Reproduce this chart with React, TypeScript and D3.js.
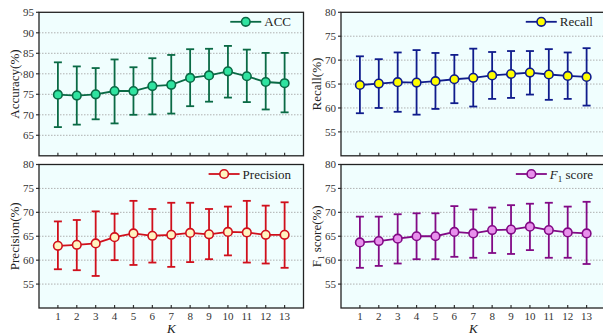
import React, { useEffect, useRef } from "react";
import * as d3 from "d3";

const kValues = [1, 2, 3, 4, 5, 6, 7, 8, 9, 10, 11, 12, 13];

const accMean = [74.9, 74.7, 75.0, 75.8, 75.8, 77.0, 77.3, 79.0, 79.6, 80.6, 79.4, 78.0, 77.7];
const accLow = [67.0, 67.6, 68.9, 67.9, 70.0, 70.1, 70.3, 72.1, 73.2, 74.2, 73.1, 71.3, 70.6];
const accHigh = [82.8, 81.8, 81.4, 83.5, 81.6, 83.8, 84.6, 86.0, 86.1, 86.8, 85.9, 85.1, 85.1];

const recMean = [64.8, 65.1, 65.4, 65.3, 65.6, 66.0, 66.3, 66.8, 67.1, 67.4, 67.0, 66.7, 66.5];
const recLow = [58.9, 60.0, 59.2, 58.6, 59.8, 61.0, 60.3, 61.9, 62.1, 62.8, 61.7, 61.9, 60.5];
const recHigh = [70.8, 70.2, 71.6, 72.1, 71.5, 71.1, 72.4, 71.7, 71.9, 71.9, 72.3, 71.6, 72.5];

const preMean = [63.0, 63.2, 63.5, 64.8, 65.6, 65.1, 65.3, 65.7, 65.4, 65.9, 65.8, 65.3, 65.3];
const preLow = [58.1, 57.9, 56.7, 60.0, 59.0, 59.5, 58.6, 59.6, 60.2, 61.0, 59.5, 59.3, 58.4];
const preHigh = [68.1, 68.4, 70.2, 69.7, 72.4, 70.7, 72.0, 72.0, 70.7, 71.2, 72.4, 71.4, 72.1];

const f1Mean = [63.7, 64.0, 64.5, 65.0, 65.0, 65.9, 65.6, 66.3, 66.4, 67.0, 66.3, 65.8, 65.6];
const f1Low = [58.4, 58.8, 59.3, 60.2, 60.2, 60.7, 60.5, 61.5, 61.3, 62.1, 60.5, 60.5, 59.2];
const f1High = [69.1, 69.1, 69.6, 69.8, 69.8, 71.3, 70.6, 71.0, 71.5, 71.8, 72.0, 71.2, 72.2];

const accTicks = [65, 70, 75, 80, 85, 90, 95];
const otherTicks = [55, 60, 65, 70, 75, 80];

type Panel = {
  mean: number[];
  low: number[];
  high: number[];
  domain: [number, number];
  ticks: number[];
  label: string;
  legend: string;
  f1?: boolean;
  line: string;
  fill: string;
  left: number;
  top: number;
  xLabels: boolean;
};

const W = 264.5;
const H = 143.5;

const panels: Panel[] = [
  { mean: accMean, low: accLow, high: accHigh, domain: [60, 95], ticks: accTicks, label: "Accuracy(%)", legend: "ACC", line: "#0a6a45", fill: "#30e3a0", left: 39, top: 12.3, xLabels: false },
  { mean: recMean, low: recLow, high: recHigh, domain: [50, 80], ticks: otherTicks, label: "Recall(%)", legend: "Recall", line: "#101c8c", fill: "#ffff00", left: 341, top: 12.3, xLabels: false },
  { mean: preMean, low: preLow, high: preHigh, domain: [50, 80], ticks: otherTicks, label: "Precision(%)", legend: "Precision", line: "#d0101c", fill: "#fff4c0", left: 39, top: 164.5, xLabels: true },
  { mean: f1Mean, low: f1Low, high: f1High, domain: [50, 80], ticks: otherTicks, label: "F1 score(%)", legend: "F1 score", f1: true, line: "#820a86", fill: "#e890ec", left: 341, top: 164.5, xLabels: true },
];

const FONT = "'Liberation Serif', 'Times New Roman', serif";

export default function App() {
  const ref = useRef<SVGSVGElement>(null);
  useEffect(() => {
    const svg = d3.select(ref.current);
    svg.selectAll("*").remove();
    panels.forEach((p) => {
      const g = svg.append("g").attr("transform", `translate(${p.left},${p.top})`);
      const x = d3.scaleLinear().domain([0, 14]).range([0, W]);
      const y = d3.scaleLinear().domain(p.domain).range([H, 0]);
      g.append("rect").attr("width", W).attr("height", H).attr("fill", "#f0fefe");
      // grid
      g.selectAll("line.grid")
        .data(p.ticks.filter((t) => t < p.domain[1]))
        .join("line")
        .attr("x1", 0).attr("x2", W)
        .attr("y1", (d) => y(d)).attr("y2", (d) => y(d))
        .attr("stroke", "#a8a8a8").attr("stroke-width", 0.9)
        .attr("stroke-dasharray", "1.5,1.5");
      // y ticks (outward)
      g.selectAll("line.yt").data(p.ticks).join("line")
        .attr("x1", -3).attr("x2", 0)
        .attr("y1", (d) => y(d)).attr("y2", (d) => y(d))
        .attr("stroke", "#333").attr("stroke-width", 1.2);
      g.selectAll("text.yl").data(p.ticks).join("text")
        .attr("x", -5).attr("y", (d) => y(d) + 3.8)
        .attr("text-anchor", "end")
        .attr("font-family", FONT).attr("font-size", 11).attr("fill", "#333")
        .text((d) => d);
      // x ticks (inward)
      g.selectAll("line.xt").data(kValues).join("line")
        .attr("x1", (d) => x(d)).attr("x2", (d) => x(d))
        .attr("y1", H).attr("y2", H - 3)
        .attr("stroke", "#333").attr("stroke-width", 1.2);
      if (p.xLabels) {
        g.selectAll("text.xl").data(kValues).join("text")
          .attr("x", (d) => x(d)).attr("y", H + 12)
          .attr("text-anchor", "middle")
          .attr("font-family", FONT).attr("font-size", 11).attr("fill", "#333")
          .text((d) => d);
        g.append("text").attr("x", W / 2).attr("y", H + 24.5)
          .attr("text-anchor", "middle").attr("font-family", FONT)
          .attr("font-size", 13).attr("font-style", "italic").attr("fill", "#222")
          .text("K");
      }
      // y label
      const yl = g.append("text")
        .attr("transform", `translate(${-20},${H / 2}) rotate(-90)`)
        .attr("text-anchor", "middle").attr("font-family", FONT)
        .attr("font-size", 13).attr("fill", "#222");
      if (p.f1) {
        yl.append("tspan").text("F");
        yl.append("tspan").attr("font-size", 9).attr("dy", 3).text("1");
        yl.append("tspan").attr("dy", -3).text(" score(%)");
      } else {
        yl.text(p.label);
      }
      // error bars
      const eb = g.append("g").attr("stroke", p.line).attr("stroke-width", 1.8);
      kValues.forEach((k, i) => {
        eb.append("line").attr("x1", x(k)).attr("x2", x(k)).attr("y1", y(p.low[i])).attr("y2", y(p.high[i]));
        eb.append("line").attr("x1", x(k) - 4).attr("x2", x(k) + 4).attr("y1", y(p.low[i])).attr("y2", y(p.low[i]));
        eb.append("line").attr("x1", x(k) - 4).attr("x2", x(k) + 4).attr("y1", y(p.high[i])).attr("y2", y(p.high[i]));
      });
      const lineGen = d3.line<number>().x((_, i) => x(kValues[i])).y((d) => y(d));
      g.append("path").attr("d", lineGen(p.mean)).attr("fill", "none")
        .attr("stroke", p.line).attr("stroke-width", 1.8);
      g.selectAll("circle.pt").data(p.mean).join("circle")
        .attr("cx", (_, i) => x(kValues[i])).attr("cy", (d) => y(d)).attr("r", 4.3)
        .attr("fill", p.fill).attr("stroke", p.line).attr("stroke-width", 1.6);
      // frame
      g.append("rect").attr("width", W).attr("height", H).attr("fill", "none")
        .attr("stroke", "#222").attr("stroke-width", 1.3);
      // legend
      const lt = g.append("text").attr("x", W - 12.5).attr("y", 14)
        .attr("text-anchor", "end").attr("font-family", FONT)
        .attr("font-size", 13).attr("fill", "#222");
      if (p.f1) {
        lt.append("tspan").attr("font-style", "italic").text("F");
        lt.append("tspan").attr("font-size", 9).attr("dy", 3).text("1");
        lt.append("tspan").attr("dy", -3).text(" score");
      } else {
        lt.text(p.legend);
      }
      const tw = (lt.node() as SVGTextElement).getComputedTextLength();
      const tx = W - 12.5 - tw - 3;
      g.append("line").attr("x1", tx - 31).attr("x2", tx).attr("y1", 9.5).attr("y2", 9.5)
        .attr("stroke", p.line).attr("stroke-width", 1.8);
      g.append("circle").attr("cx", tx - 15.5).attr("cy", 9.5).attr("r", 4.3)
        .attr("fill", p.fill).attr("stroke", p.line).attr("stroke-width", 1.6);
    });
  }, []);
  return (
    <div style={{ position: "fixed", left: 0, top: 0, width: 603, height: 336, background: "#fff" }}>
      <svg ref={ref} width={603} height={336} />
    </div>
  );
}
